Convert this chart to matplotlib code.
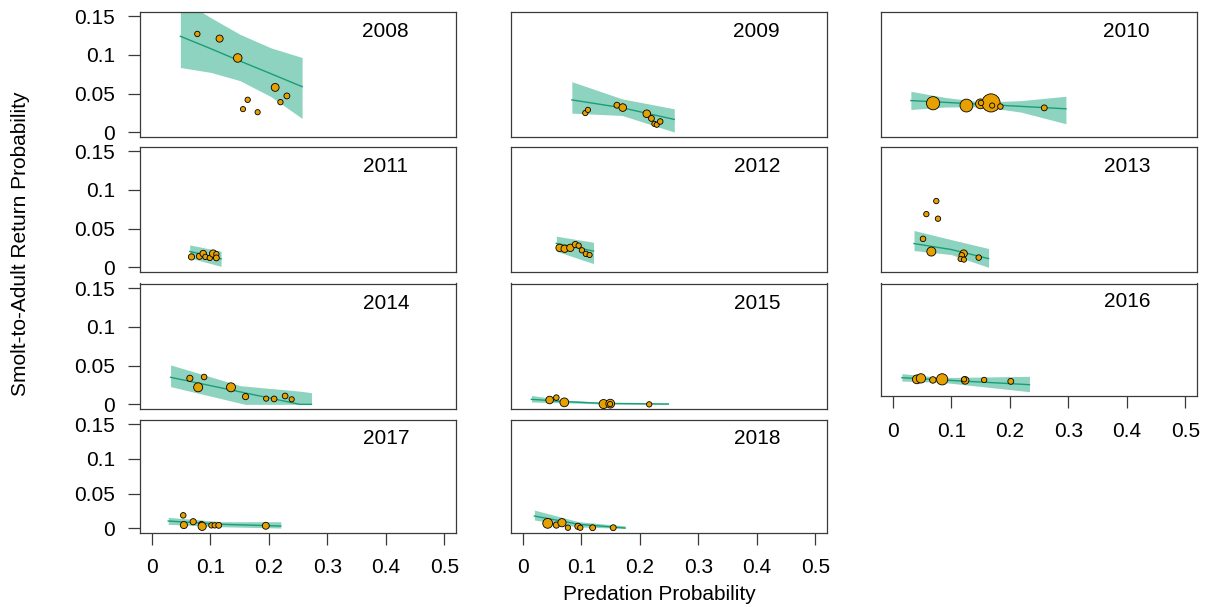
"""Smolt-to-adult return vs predation probability, one panel per year."""
import numpy as np
import matplotlib
matplotlib.use("Agg")
import matplotlib.pyplot as plt

plt.rcParams.update({"font.family": ["Liberation Sans", "DejaVu Sans"],
                     "font.size": 15})

YEARS = [2008, 2009, 2010, 2011, 2012, 2013, 2014, 2015, 2016, 2017, 2018]

# observed points: predation prob, SAR, relative sample size
X_2008 = [0.078, 0.116, 0.147, 0.211, 0.231, 0.220, 0.164, 0.156, 0.181]
Y_2008 = [0.127, 0.121, 0.096, 0.058, 0.047, 0.039, 0.042, 0.030, 0.026]
N_2008 = [1.5, 2.6, 3.8, 3.2, 1.8, 1.5, 1.5, 1.4, 1.4]

X_2009 = [0.107, 0.1115, 0.161, 0.171, 0.212, 0.220, 0.225, 0.229, 0.235]
Y_2009 = [0.025, 0.029, 0.035, 0.032, 0.024, 0.018, 0.011, 0.0098, 0.014]
N_2009 = [1.5, 1.4, 1.8, 3.0, 3.0, 1.8, 1.4, 1.4, 1.6]

X_2010 = [0.069, 0.126, 0.150, 0.168, 0.151, 0.170, 0.184, 0.259]
Y_2010 = [0.0376, 0.0346, 0.0368, 0.038, 0.038, 0.0346, 0.0333, 0.0316]
N_2010 = [9.0, 8.5, 5.0, 17.0, 1.5, 1.4, 1.6, 1.8]

X_2011 = [0.068, 0.0816, 0.088, 0.0918, 0.0993, 0.105, 0.1105, 0.1105]
Y_2011 = [0.0135, 0.0143, 0.0178, 0.0135, 0.0122, 0.0178, 0.017, 0.0122]
N_2011 = [2.0, 2.0, 2.2, 1.5, 1.5, 2.8, 1.5, 1.8]

X_2012 = [0.063, 0.0717, 0.0814, 0.090, 0.0956, 0.1012, 0.108, 0.1143]
Y_2012 = [0.0252, 0.024, 0.0252, 0.0294, 0.028, 0.022, 0.0174, 0.016]
N_2012 = [2.8, 2.8, 2.8, 2.0, 1.5, 1.5, 1.5, 1.4]

X_2013 = [0.0745, 0.0575, 0.0774, 0.0518, 0.066, 0.1213, 0.118, 0.116, 0.1217, 0.147]
Y_2013 = [0.0856, 0.0687, 0.0628, 0.0368, 0.0204, 0.0178, 0.0156, 0.0109, 0.010, 0.0126]
N_2013 = [1.5, 1.5, 1.5, 1.6, 4.2, 2.8, 1.6, 1.4, 1.4, 1.6]

X_2014 = [0.0652, 0.0896, 0.0794, 0.1355, 0.1604, 0.1956, 0.2092, 0.228, 0.2392]
Y_2014 = [0.0336, 0.0353, 0.022, 0.022, 0.010, 0.0074, 0.007, 0.0108, 0.0065]
N_2014 = [2.0, 1.6, 4.2, 4.2, 2.0, 1.4, 1.7, 1.7, 1.4]

X_2015 = [0.046, 0.0575, 0.0711, 0.1382, 0.1496, 0.1493, 0.2162]
Y_2015 = [0.0056, 0.0087, 0.0026, 0.0004, 0.0009, 0.0004, 0.0]
N_2015 = [3.0, 1.6, 4.0, 4.2, 4.0, 1.4, 1.5]

X_2016 = [0.0413, 0.0482, 0.0687, 0.0845, 0.1238, 0.122, 0.1563, 0.2018]
Y_2016 = [0.018, 0.0194, 0.0171, 0.018, 0.0165, 0.018, 0.0171, 0.0151]
N_2016 = [4.0, 4.5, 2.2, 6.5, 3.0, 1.4, 1.5, 1.8]

X_2017 = [0.0539, 0.055, 0.0709, 0.085, 0.0862, 0.102, 0.1077, 0.1145, 0.195]
Y_2017 = [0.0187, 0.0047, 0.0095, 0.0062, 0.0029, 0.0043, 0.0043, 0.0043, 0.0037]
N_2017 = [1.6, 2.6, 2.0, 1.5, 3.5, 1.5, 1.5, 1.8, 2.5]

X_2018 = [0.0427, 0.0575, 0.0671, 0.0773, 0.0944, 0.0984, 0.1195, 0.1547]
Y_2018 = [0.0072, 0.0047, 0.0081, 0.0009, 0.0029, 0.0009, 0.0009, 0.0009]
N_2018 = [5.0, 2.0, 3.5, 1.5, 2.0, 1.5, 1.8, 1.8]

FX_2008 = [0.049, 0.101, 0.151, 0.204, 0.257]
FIT_2008 = [0.124, 0.108, 0.092, 0.0756, 0.059]
HI_2008 = [0.172, 0.148, 0.1265, 0.109, 0.0966]
LO_2008 = [0.0837, 0.0774, 0.0667, 0.046, 0.018]

FX_2009 = [0.084, 0.17, 0.259]
FIT_2009 = [0.0419, 0.0317, 0.0167]
HI_2009 = [0.0654, 0.0432, 0.0304]
LO_2009 = [0.0248, 0.0218, 0.0004]

FX_2010 = [0.031, 0.09, 0.155, 0.22, 0.296]
FIT_2010 = [0.041, 0.0387, 0.0361, 0.0335, 0.0304]
HI_2010 = [0.053, 0.045, 0.039, 0.041, 0.0466]
LO_2010 = [0.0295, 0.0327, 0.0331, 0.026, 0.0111]

FX_2011 = [0.065, 0.1185]
FIT_2011 = [0.0205, 0.011]
HI_2011 = [0.029, 0.0208]
LO_2011 = [0.0122, 0.0013]

FX_2012 = [0.0575, 0.121]
FIT_2012 = [0.031, 0.021]
HI_2012 = [0.0402, 0.0324]
LO_2012 = [0.0208, 0.0048]

FX_2013 = [0.0364, 0.10, 0.1638]
FIT_2013 = [0.0307, 0.023, 0.0113]
HI_2013 = [0.0476, 0.0358, 0.0243]
LO_2013 = [0.0217, 0.0165, 0.0]

FX_2014 = [0.0323, 0.1514, 0.16, 0.2534, 0.273]
FIT_2014 = [0.0349, 0.0161, 0.0147, 0.0, 0.0]
HI_2014 = [0.0509, 0.0241, 0.0235, 0.017, 0.0151]
LO_2014 = [0.0229, 0.0015, 0.0, 0.0, 0.0]

FX_2015 = [0.0148, 0.071, 0.138, 0.249]
FIT_2015 = [0.0065, 0.0036, 0.0013, 0.0004]
HI_2015 = [0.0115, 0.0055, 0.0025, 0.0015]
LO_2015 = [0.003, 0.002, 0.0004, 0.0]

FX_2016 = [0.0157, 0.085, 0.2337]
FIT_2016 = [0.0204, 0.0171, 0.0103]
HI_2016 = [0.0262, 0.0205, 0.0223]
LO_2016 = [0.0156, 0.0137, 0.0002]

FX_2017 = [0.0283, 0.12, 0.2205]
FIT_2017 = [0.0105, 0.0058, 0.0033]
HI_2017 = [0.0158, 0.0095, 0.0095]
LO_2017 = [0.0058, 0.0023, 0.0004]

FX_2018 = [0.02, 0.0956, 0.175]
FIT_2018 = [0.0177, 0.0058, 0.0004]
HI_2018 = [0.0263, 0.0095, 0.0035]
LO_2018 = [0.012, 0.002, 0.0]

X_TICKS = [0, 0.1, 0.2, 0.3, 0.4, 0.5]
X_TICKLABELS = ["0", "0.1", "0.2", "0.3", "0.4", "0.5"]
Y_TICKS = [0, 0.05, 0.1, 0.15]
Y_TICKLABELS = ["0", "0.05", "0.1", "0.15"]

W, H = 1205, 607
COL_LEFT = [140, 511, 881]
COL_W = 316
ROW_TOP = [11.5, 146.5, 283.5, 420]
FULL_H, SHORT_H = 125.5, 112.5

BAND = "#8dd3bf"
LINE = "#1a9e77"
DOT = "#e6a000"
SPINE = "#3a3a3a"

fig = plt.figure(figsize=(W / 100, H / 100), dpi=100)

for i, yr in enumerate(YEARS):
    row, col = divmod(i, 3)
    has_x = yr in (2016, 2017, 2018)
    h = SHORT_H if has_x else FULL_H
    top = ROW_TOP[row]
    ax = fig.add_axes([COL_LEFT[col] / W, 1 - (top + h) / H, COL_W / W, h / H])

    g = globals()
    fx = g[f"FX_{yr}"]
    ax.fill_between(fx, g[f"LO_{yr}"], g[f"HI_{yr}"], color=BAND, lw=0, zorder=1)
    ax.plot(fx, g[f"FIT_{yr}"], color=LINE, lw=1.0, zorder=2)
    sizes = 10 * np.array(g[f"N_{yr}"])
    ax.scatter(g[f"X_{yr}"], g[f"Y_{yr}"], s=sizes, c=DOT, edgecolors="black",
               linewidths=0.6, zorder=3)
    ax.text(0.4, 0.13, str(yr), ha="center", va="center")

    ax.set_xlim(-0.02, 0.52)
    ax.set_ylim(-0.006, 0.156)
    for sp in ax.spines.values():
        sp.set_color(SPINE)
        sp.set_linewidth(0.9)
    ax.tick_params(color=SPINE, width=0.9, length=8.6, direction="out")

    if col == 0:
        ax.set_yticks(Y_TICKS, Y_TICKLABELS)
        ax.tick_params(axis="y", pad=9.4)
    else:
        ax.set_yticks([])
    if has_x:
        ax.set_xticks(X_TICKS, X_TICKLABELS)
        ax.tick_params(axis="x", pad=10)
    else:
        ax.set_xticks([])

fig.text(21 / W, 1 - 244 / H, "Smolt-to-Adult Return Probability",
         rotation=90, ha="center", va="center")
fig.text(659 / W, 1 - 594 / H, "Predation Probability", ha="center", va="center")

fig.savefig("out.png", dpi=100)
